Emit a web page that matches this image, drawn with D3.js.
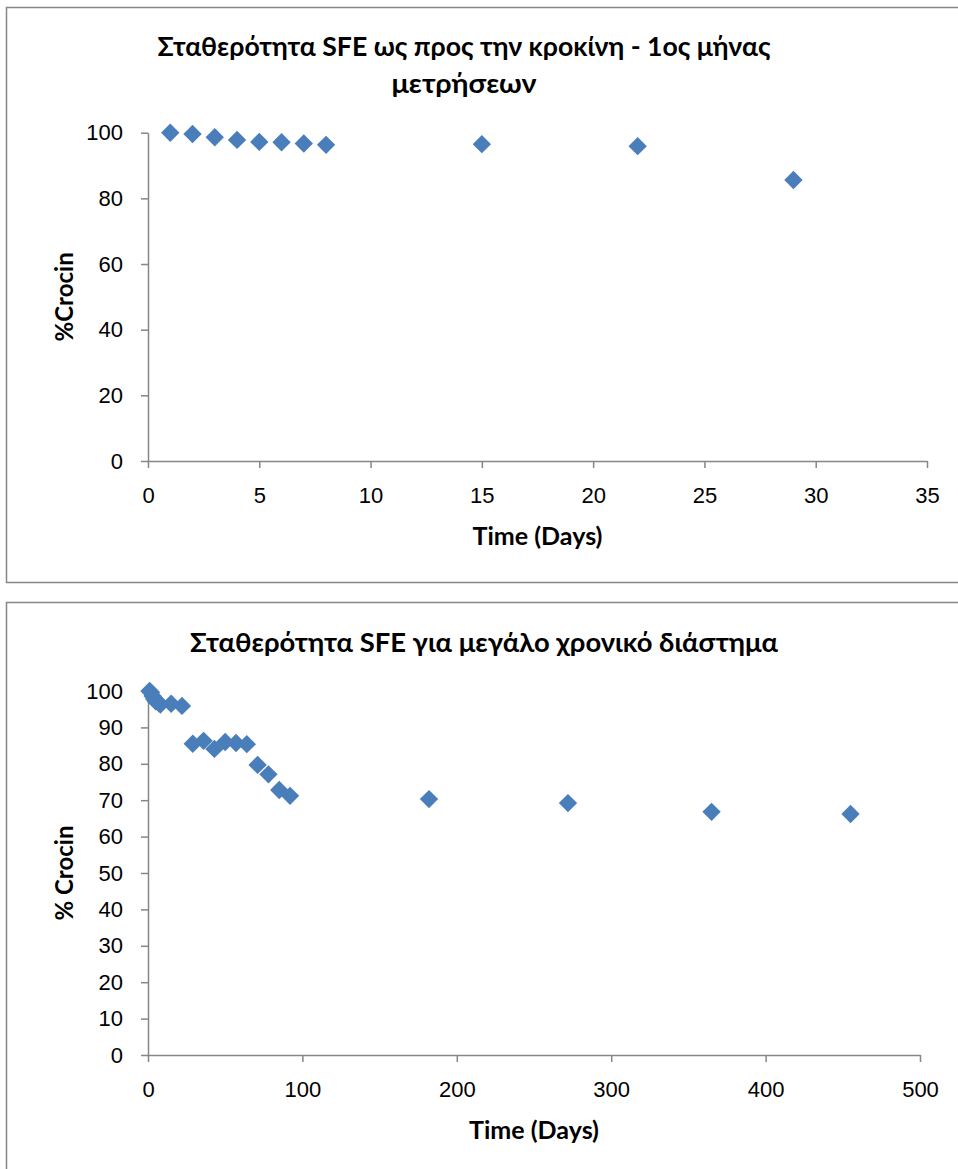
<!DOCTYPE html>
<html>
<head>
<meta charset="utf-8">
<script src="https://cdn.jsdelivr.net/npm/d3@7"></script>
<style>
  body { margin: 0; background: #fff; }
  svg { display: block; font-family: Lato, "Open Sans", sans-serif; }
  .axis path, .axis line { stroke: #868686; stroke-width: 1.5; }
  .axis text { fill: #000; font-size: 22px; }
  .title { font-weight: bold; font-size: 26px; }
  .atitle { font-weight: bold; font-size: 24px; }
</style>
</head>
<body>
<div id="chart"></div>
<script>
// first month of measurements
const monthDays = [1, 2, 3, 4, 5, 6, 7, 8, 15, 22, 29];
const monthCrocin = [100, 99.6, 98.6, 97.8, 97.2, 97.1, 96.7, 96.3, 96.5, 95.9, 85.6];

// long term
const longDays = [1, 2, 3, 4, 5, 6, 7, 8, 15, 22, 29, 36, 43, 50, 57, 64, 71, 78, 85, 92, 182, 272, 365, 455];
const longCrocin = [100, 99.6, 98.6, 97.8, 97.2, 97.1, 96.7, 96.3, 96.5, 95.9, 85.5, 86.3, 84.1, 86.0, 85.7, 85.4, 79.7, 77.1, 72.8, 71.2, 70.3, 69.2, 66.8, 66.2];

const monthXTicks = [0, 5, 10, 15, 20, 25, 30, 35];
const monthYTicks = [0, 20, 40, 60, 80, 100];
const longXTicks = [0, 100, 200, 300, 400, 500];
const longYTicks = [0, 10, 20, 30, 40, 50, 60, 70, 80, 90, 100];

const svg = d3.select('#chart').append('svg')
  .attr('width', 958)
  .attr('height', 1169);

function drawChart(cfg) {
  const g = svg.append('g');

  // outer chart border (runs off the right edge like the original)
  g.append('rect')
    .attr('x', cfg.box[0] + 0.5).attr('y', cfg.box[1] + 0.5)
    .attr('width', cfg.box[2]).attr('height', cfg.box[3])
    .attr('fill', 'none').attr('stroke', '#868686').attr('stroke-width', 1.5);

  const x = d3.scaleLinear().domain(cfg.xDomain).range([cfg.left, cfg.right]);
  const y = d3.scaleLinear().domain(cfg.yDomain).range([cfg.bottom, cfg.top]);

  g.append('g')
    .attr('class', 'axis')
    .attr('transform', `translate(0, ${cfg.bottom})`)
    .call(d3.axisBottom(x).tickValues(cfg.xTicks).tickSize(7).tickSizeOuter(0))
    .call(a => a.selectAll('text').attr('y', 42).attr('dy', null));

  g.append('g')
    .attr('class', 'axis')
    .attr('transform', `translate(${cfg.left}, 0)`)
    .call(d3.axisLeft(y).tickValues(cfg.yTicks).tickSize(7).tickPadding(18).tickSizeOuter(0));

  g.selectAll('.axis .domain').attr('stroke-width', 2);

  const diamond = d3.symbol().type(d3.symbolDiamond2).size(215);
  g.selectAll('.pt')
    .data(cfg.xs.map((d, i) => [d, cfg.ys[i]]))
    .enter()
    .append('path')
    .attr('class', 'pt')
    .attr('d', diamond)
    .attr('transform', d => `translate(${x(d[0])}, ${y(d[1])})`)
    .attr('fill', '#4A7EBB');

  cfg.title.forEach((t, i) => {
    g.append('text')
      .attr('class', 'title')
      .attr('x', cfg.titleX).attr('y', cfg.titleY + i * 37)
      .attr('text-anchor', 'middle')
      .attr('textLength', cfg.titleLen[i])
      .attr('lengthAdjust', 'spacingAndGlyphs')
      .text(t);
  });

  g.append('text')
    .attr('class', 'atitle')
    .attr('x', (cfg.left + cfg.right) / 2).attr('y', cfg.bottom + 84)
    .attr('text-anchor', 'middle')
    .attr('textLength', 130)
    .attr('lengthAdjust', 'spacingAndGlyphs')
    .text('Time (Days)');

  g.append('text')
    .attr('class', 'atitle')
    .attr('transform', `translate(73, ${(cfg.top + cfg.bottom) / 2}) rotate(-90)`)
    .attr('text-anchor', 'middle')
    .text(cfg.yLabel);
}

drawChart({
  box: [6, 7, 980, 575],
  left: 148, right: 927, top: 132.7, bottom: 461,
  xDomain: [0, 35], yDomain: [0, 100],
  xTicks: monthXTicks, yTicks: monthYTicks,
  xs: monthDays, ys: monthCrocin,
  title: ['Σταθερότητα SFE ως προς την κροκίνη - 1ος μήνας', 'μετρήσεων'],
  titleLen: [613, 145],
  titleX: 464, titleY: 56,
  yLabel: '%Crocin'
});

drawChart({
  box: [6, 602, 980, 600],
  left: 148, right: 920, top: 691, bottom: 1055,
  xDomain: [0, 500], yDomain: [0, 100],
  xTicks: longXTicks, yTicks: longYTicks,
  xs: longDays, ys: longCrocin,
  title: ['Σταθερότητα SFE για μεγάλο χρονικό διάστημα'],
  titleLen: [588],
  titleX: 484, titleY: 652,
  yLabel: '% Crocin'
});
</script>
</body>
</html>
